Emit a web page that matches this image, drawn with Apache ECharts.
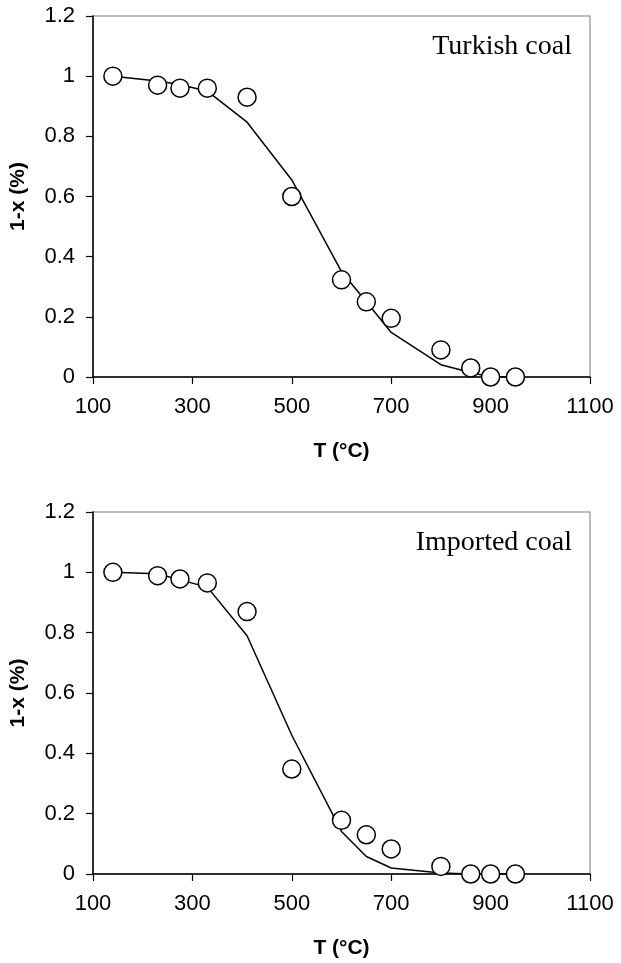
<!DOCTYPE html>
<html>
<head>
<meta charset="utf-8">
<script src="https://cdn.jsdelivr.net/npm/echarts@6/dist/echarts.min.js"></script>
<style>
  html, body { margin: 0; padding: 0; background: #fff; }
  #chart { width: 621px; height: 963px; }
</style>
</head>
<body>
<div id="chart"></div>
<script>
// temperatures (°C) for both coals
var temps = [140, 230, 275, 330, 410, 500, 600, 650, 700, 800, 860, 900, 950];

// Turkish coal: measured points and model curve
var turkishExp = [1.0, 0.97, 0.96, 0.96, 0.93, 0.60, 0.323, 0.25, 0.195, 0.09, 0.03, 0, 0];
var turkishModel = [1.0, 0.984, 0.972, 0.95, 0.847, 0.655, 0.35, 0.25, 0.148, 0.041, 0.015, 0, 0];

// Imported coal: measured points and model curve
var importedExp = [1.0, 0.989, 0.978, 0.965, 0.87, 0.348, 0.178, 0.13, 0.083, 0.025, 0, 0, 0];
var importedModel = [1.0, 0.995, 0.975, 0.951, 0.79, 0.46, 0.141, 0.058, 0.02, 0.003, 0, 0, 0];

var titles = ['Turkish coal', 'Imported coal'];

function pairs(xs, ys) {
    return xs.map(function (x, i) { return [x, ys[i]]; });
}

var chart = echarts.init(document.getElementById('chart'));

var labelFont = { color: '#000', fontSize: 22, fontFamily: 'Liberation Sans, Arial, sans-serif' };
var nameFont = { color: '#000', fontSize: 21, fontWeight: 'bold', fontFamily: 'Liberation Sans, Arial, sans-serif' };

function xAx(idx) {
    return {
        type: 'value', gridIndex: idx, min: 100, max: 1100, interval: 200,
        name: 'T (°C)', nameLocation: 'middle', nameGap: 64, nameTextStyle: nameFont,
        axisLine: { lineStyle: { color: '#000', width: 1.5 } },
        axisTick: { inside: false, length: 7, lineStyle: { color: '#000', width: 1.2 } },
        axisLabel: Object.assign({ margin: 19, formatter: function (v) { return String(v); } }, labelFont),
        splitLine: { show: false }
    };
}

function yAx(idx) {
    return {
        type: 'value', gridIndex: idx, min: 0, max: 1.2, interval: 0.2,
        name: '1-x (%)', nameLocation: 'middle', nameGap: 64, nameRotate: 90, nameTextStyle: nameFont,
        axisLine: { show: true, lineStyle: { color: '#000', width: 1.5 } },
        axisTick: { show: true, inside: false, length: 7, lineStyle: { color: '#000', width: 1.2 } },
        axisLabel: Object.assign({ margin: 18, formatter: function (v) { return String(+v.toFixed(1)); } }, labelFont),
        splitLine: { show: false }
    };
}

var option = {
    animation: false,
    backgroundColor: '#fff',
    title: [
        { text: titles[0], right: 49, top: 33, padding: 0,
          textStyle: { fontFamily: 'Liberation Serif, Times New Roman, serif', fontWeight: 'normal', fontSize: 28, color: '#000' } },
        { text: titles[1], right: 49, top: 529, padding: 0,
          textStyle: { fontFamily: 'Liberation Serif, Times New Roman, serif', fontWeight: 'normal', fontSize: 28, color: '#000' } }
    ],
    grid: [
        { left: 93, top: 16, width: 497, height: 361, show: true, borderColor: '#a6a6a6', borderWidth: 1.5 },
        { left: 93, top: 512, width: 497, height: 362, show: true, borderColor: '#a6a6a6', borderWidth: 1.5 }
    ],
    xAxis: [xAx(0), xAx(1)],
    yAxis: [yAx(0), yAx(1)],
    series: [
        {
            type: 'line', xAxisIndex: 0, yAxisIndex: 0, data: pairs(temps, turkishModel),
            showSymbol: false, symbol: 'none', lineStyle: { color: '#000', width: 1.5 }, z: 2
        },
        {
            type: 'scatter', xAxisIndex: 0, yAxisIndex: 0, data: pairs(temps, turkishExp),
            symbol: 'circle', symbolSize: 18,
            itemStyle: { color: '#fff', borderColor: '#000', borderWidth: 1.5, opacity: 1 }, z: 3
        },
        {
            type: 'line', xAxisIndex: 1, yAxisIndex: 1, data: pairs(temps, importedModel),
            showSymbol: false, symbol: 'none', lineStyle: { color: '#000', width: 1.5 }, z: 2
        },
        {
            type: 'scatter', xAxisIndex: 1, yAxisIndex: 1, data: pairs(temps, importedExp),
            symbol: 'circle', symbolSize: 18,
            itemStyle: { color: '#fff', borderColor: '#000', borderWidth: 1.5, opacity: 1 }, z: 3
        }
    ]
};

chart.setOption(option);
window.addEventListener('resize', chart.resize);
</script>
</body>
</html>
